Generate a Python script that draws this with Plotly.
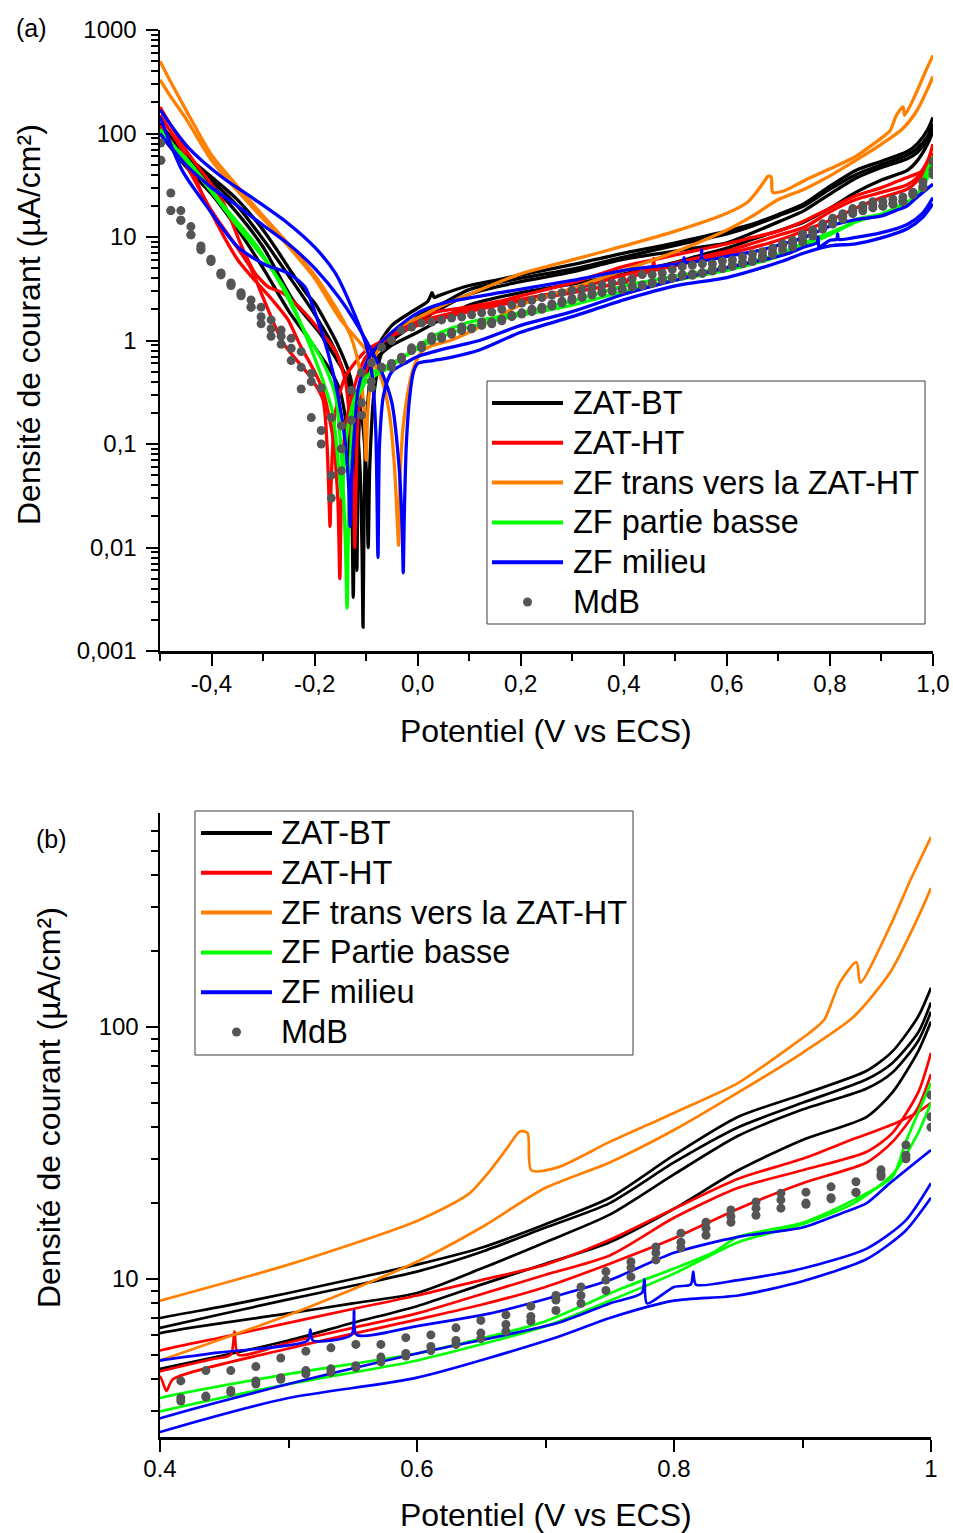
import plotly.graph_objects as go

W, H = 953, 1533

# ---------------- data : potential E (V vs ECS), current density J (uA/cm2) ----------------
# ZAT-BT (black)
zatbt1_E = [-0.5, -0.45, -0.4, -0.35, -0.3, -0.273, -0.25, -0.215, -0.2, -0.157, -0.131, -0.12, -0.112, -0.108, -0.106,
            -0.104, -0.1, -0.09, -0.079, -0.05, -0.015, 0.02, 0.028, 0.032, 0.04, 0.1, 0.16, 0.2, 0.3, 0.4,
            0.45, 0.5, 0.55, 0.6, 0.65, 0.7, 0.75, 0.8, 0.85, 0.9, 0.95, 0.97, 0.99, 1.0]
zatbt1_J = [125, 62, 38, 23, 11.7, 7.5, 5.0, 2.8, 2.3, 0.95, 0.45, 0.2, 0.06, 0.01, 0.0017,
            0.02, 0.15, 0.5, 0.85, 1.4, 1.85, 2.4, 2.9, 2.6, 2.7, 3.4, 3.9, 4.3, 5.4, 7.0,
            7.8, 8.8, 10.0, 11.4, 13.3, 16.5, 21, 31, 44, 54, 67, 80, 110, 143]
zatbt2_E = [-0.5, -0.45, -0.4, -0.35, -0.3, -0.242, -0.19, -0.157, -0.131, -0.11, -0.1, -0.096, -0.093, -0.085, -0.07,
            -0.04, 0.0, 0.05, 0.1, 0.2, 0.3, 0.4, 0.5, 0.55, 0.6, 0.65, 0.7, 0.75, 0.8, 0.85,
            0.9, 0.95, 0.97, 0.99, 1.0]
zatbt2_J = [110, 55, 32, 17, 8, 2.46, 1.18, 0.65, 0.39, 0.2, 0.06, 0.01, 0.06, 0.3, 0.75,
            1.1, 1.7, 2.3, 3.1, 4.0, 4.9, 6.4, 8.3, 9.4, 10.7, 12.8, 16, 20, 29, 40,
            50, 62, 72, 95, 125]
zatbt3_E = [-0.5, -0.45, -0.4, -0.35, -0.3, -0.248, -0.209, -0.17, -0.151, -0.135, -0.128, -0.125, -0.122, -0.115, -0.1,
            -0.08, -0.04, 0.0, 0.1, 0.2, 0.3, 0.4, 0.5, 0.55, 0.6, 0.65, 0.7, 0.75, 0.8, 0.85,
            0.9, 0.95, 0.97, 0.99, 1.0]
zatbt3_J = [100, 48, 26, 12, 5.0, 1.85, 1.0, 0.52, 0.33, 0.12, 0.03, 0.0033, 0.04, 0.2, 0.5,
            0.8, 1.1, 1.5, 2.8, 3.7, 4.6, 6.1, 7.3, 8.0, 8.8, 11.0, 14, 18, 26, 37,
            47, 57, 66, 88, 115]
zatbt4_E = [-0.5, -0.45, -0.4, -0.35, -0.3, -0.25, -0.2, -0.16, -0.13, -0.122, -0.118, -0.115, -0.108, -0.09, -0.05,
            0.0, 0.1, 0.2, 0.3, 0.4, 0.5, 0.55, 0.6, 0.65, 0.7, 0.75, 0.8, 0.85, 0.9, 0.95,
            0.97, 0.99, 1.0]
zatbt4_J = [115, 57, 35, 20, 9.5, 4.2, 1.8, 0.8, 0.3, 0.08, 0.006, 0.1, 0.35, 0.6, 0.9,
            1.2, 2.2, 2.9, 3.5, 4.4, 5.7, 6.7, 7.8, 9.5, 11.5, 14, 19, 27, 35.6, 44,
            55, 80, 105]

# ZAT-HT (red)
zatht1_E = [-0.5, -0.446, -0.38, -0.341, -0.316, -0.29, -0.263, -0.219, -0.186, -0.16, -0.14, -0.13, -0.124, -0.122, -0.12,
            -0.115, -0.1, -0.087, -0.034, 0.03, 0.096, 0.16, 0.2, 0.3, 0.4, 0.45, 0.5, 0.55, 0.6, 0.65,
            0.7, 0.75, 0.8, 0.85, 0.9, 0.94, 0.97, 0.99, 1.0]
zatht1_J = [180, 65, 23, 8, 4.5, 3.3, 2.9, 1.85, 1.18, 0.8, 0.4, 0.12, 0.03, 0.01, 0.03,
            0.2, 0.5, 0.81, 1.3, 1.85, 2.1, 2.4, 2.7, 3.6, 5.2, 5.9, 6.7, 7.6, 8.6, 9.9,
            11.4, 14.3, 19, 25, 30, 36, 41, 46, 50]
zatht2_E = [-0.5, -0.45, -0.413, -0.349, -0.283, -0.252, -0.228, -0.2, -0.184, -0.165, -0.155, -0.151, -0.148, -0.14, -0.12,
            -0.1, -0.05, 0.0, 0.1, 0.2, 0.3, 0.4, 0.44, 0.455, 0.458, 0.461, 0.5, 0.55, 0.6, 0.65,
            0.7, 0.75, 0.8, 0.85, 0.9, 0.95, 0.97, 0.99, 1.0]
zatht2_J = [150, 60, 23, 6, 2.5, 1.6, 0.9, 0.5, 0.33, 0.12, 0.03, 0.005, 0.03, 0.15, 0.4,
            0.7, 1.1, 1.5, 2.0, 2.5, 3.1, 4.3, 4.8, 5.0, 6.2, 5.0, 5.6, 6.4, 7.3, 8.7,
            10.4, 12.4, 17.5, 23, 27, 32, 38, 55, 79]
zatht3_E = [-0.5, -0.45, -0.4, -0.325, -0.3, -0.261, -0.209, -0.184, -0.176, -0.172, -0.17, -0.168, -0.16, -0.14, -0.1,
            -0.05, 0.0, 0.1, 0.2, 0.3, 0.395, 0.4, 0.405, 0.41, 0.5, 0.6, 0.65, 0.7, 0.75, 0.8,
            0.85, 0.9, 0.95, 0.97, 0.99, 1.0]
zatht3_J = [120, 50, 18, 5.1, 2.6, 0.95, 0.45, 0.27, 0.1, 0.03, 0.016, 0.04, 0.2, 0.45, 0.8,
            1.1, 1.4, 1.9, 2.4, 2.9, 3.7, 4.1, 3.6, 4.0, 5.3, 6.9, 7.9, 9.3, 11.5, 14.5,
            19, 24, 29, 35, 48, 65]

# ZF trans vers la ZAT-HT (orange)
zftrans1_E = [-0.5, -0.48, -0.45, -0.4, -0.35, -0.3, -0.25, -0.2, -0.15, -0.13, -0.115, -0.105, -0.1, -0.097, -0.09,
              -0.08, -0.06, -0.03, 0.0, 0.05, 0.1, 0.2, 0.3, 0.4, 0.5, 0.6, 0.64, 0.657, 0.67, 0.68,
              0.686, 0.689, 0.71, 0.75, 0.8, 0.85, 0.89, 0.908, 0.917, 0.929, 0.942, 0.945, 0.968, 0.984, 1.0]
zftrans1_J = [500, 320, 170, 62, 31, 16, 8.5, 4.3, 1.75, 1.1, 0.6, 0.25, 0.07, 0.2, 0.45,
              0.75, 1.1, 1.4, 1.65, 2.2, 2.8, 4.4, 6.0, 8.2, 11.4, 17, 21.7, 27, 33, 38.5,
              38, 27, 27.8, 35, 45.6, 60, 83, 97, 107, 150, 181, 150, 250, 383, 567]
zftrans2_E = [-0.5, -0.48, -0.45, -0.4, -0.35, -0.3, -0.25, -0.2, -0.15, -0.1, -0.07, -0.055, -0.045, -0.04, -0.037,
              -0.034, -0.028, -0.015, -0.005, 0.01, 0.03, 0.063, 0.1, 0.2, 0.3, 0.4, 0.5, 0.6, 0.65, 0.7,
              0.75, 0.8, 0.85, 0.9, 0.94, 0.968, 0.989, 1.0]
zftrans2_J = [330, 230, 140, 55, 28, 15, 8, 4.0, 1.6, 0.8, 0.42, 0.2, 0.06, 0.02, 0.0105,
              0.05, 0.15, 0.4, 0.6, 0.8, 0.9, 1.0, 1.2, 2.2, 3.2, 4.75, 7.2, 11.7, 16, 23,
              29, 39, 55, 79, 110, 164, 266, 356]

# ZF partie basse (green)
zfbasse1_E = [-0.5, -0.446, -0.38, -0.316, -0.263, -0.224, -0.186, -0.16, -0.148, -0.14, -0.137, -0.134, -0.128, -0.12, -0.1,
              -0.054, 0.03, 0.1, 0.16, 0.3, 0.4, 0.5, 0.6, 0.65, 0.7, 0.76, 0.8, 0.83, 0.85, 0.9,
              0.94, 0.97, 0.98, 1.0]
zfbasse1_J = [100, 55, 21, 8.7, 3.3, 1.36, 0.65, 0.3, 0.08, 0.01, 0.0026, 0.02, 0.12, 0.25, 0.4,
              0.55, 1.1, 1.5, 1.7, 2.4, 3.37, 4.2, 5.06, 5.8, 6.8, 9.2, 11, 12.7, 14.7, 16.7,
              20.6, 25.4, 34.6, 60]
zfbasse2_E = [-0.5, -0.477, -0.413, -0.349, -0.296, -0.252, -0.219, -0.19, -0.165, -0.152, -0.147, -0.143, -0.135, -0.12, -0.1,
              -0.05, 0.03, 0.1, 0.16, 0.3, 0.4, 0.5, 0.6, 0.7, 0.75, 0.8, 0.85, 0.9, 0.94, 0.97,
              0.99, 1.0]
zfbasse2_J = [110, 80, 33, 12.6, 6, 2.8, 1.18, 0.5, 0.2, 0.05, 0.03, 0.06, 0.15, 0.3, 0.45,
              0.6, 1.0, 1.35, 1.6, 2.2, 2.98, 3.83, 4.75, 6.5, 8.2, 10.5, 14, 16.5, 20, 26,
              38, 50]

# ZF milieu (blue)
zfmil1_E = [-0.5, -0.457, -0.413, -0.349, -0.296, -0.252, -0.219, -0.199, -0.174, -0.155, -0.14, -0.134, -0.131, -0.128, -0.122,
            -0.115, -0.1, -0.09, -0.05, 0.0, 0.05, 0.16, 0.3, 0.4, 0.445, 0.515, 0.517, 0.519, 0.549, 0.551,
            0.553, 0.6, 0.657, 0.71, 0.75, 0.8, 0.85, 0.9, 0.93, 0.95, 0.968, 1.0]
zfmil1_J = [145, 44, 21, 8, 5.4, 4.5, 3.3, 1.85, 0.76, 0.3, 0.1, 0.04, 0.016, 0.05, 0.15,
            0.35, 0.6, 0.75, 1.2, 1.85, 2.3, 2.9, 3.8, 4.75, 5.1, 5.7, 6.3, 5.7, 6.0, 7.5,
            6.0, 6.5, 7.3, 8.6, 9.9, 12.7, 14.7, 16, 18.2, 20, 24, 32.5]
zfmil2_E = [-0.5, -0.446, -0.38, -0.316, -0.252, -0.199, -0.16, -0.13, -0.1, -0.088, -0.081, -0.077, -0.074, -0.066, -0.05,
            -0.02, 0.0, 0.06, 0.12, 0.2, 0.3, 0.4, 0.5, 0.6, 0.71, 0.75, 0.775, 0.777, 0.779, 0.8,
            0.813, 0.815, 0.817, 0.85, 0.9, 0.95, 0.98, 1.0]
zfmil2_J = [170, 74, 38, 23, 13.6, 7.9, 4.5, 2.2, 0.9, 0.45, 0.12, 0.008, 0.1, 0.3, 0.5,
            0.62, 0.7, 0.85, 1.0, 1.4, 1.9, 2.8, 3.83, 5.06, 6.7, 8.0, 8.8, 10, 8.0, 9.3,
            9.5, 10.7, 9.5, 9.9, 11, 13.2, 17, 24]
zfmil3_E = [-0.5, -0.45, -0.4, -0.35, -0.3, -0.25, -0.2, -0.15, -0.1, -0.07, -0.05, -0.036, -0.03, -0.028, -0.026,
            -0.022, -0.015, -0.008, 0.0, 0.03, 0.06, 0.12, 0.2, 0.3, 0.4, 0.5, 0.6, 0.71, 0.75, 0.8,
            0.85, 0.9, 0.95, 0.98, 1.0]
zfmil3_J = [100, 50, 30, 20, 13, 8.5, 5.0, 2.5, 1.0, 0.5, 0.25, 0.06, 0.015, 0.0057, 0.02,
            0.1, 0.3, 0.5, 0.6, 0.64, 0.68, 0.81, 1.2, 1.7, 2.47, 3.37, 4.06, 5.9, 7.0, 8.2,
            8.6, 9.8, 12, 15.5, 21]

# MdB (grey dots), three measurements sharing the same potentials
mdb_E = [-0.4984, -0.4790, -0.4595, -0.4400, -0.4206, -0.4011, -0.3817, -0.3622, -0.3427, -0.3233,
         -0.3038, -0.2844, -0.2649, -0.2454, -0.2260, -0.2065, -0.1871, -0.1676, -0.1481, -0.1287,
         -0.1092, -0.0898, -0.0703, -0.0508, -0.0314, -0.0119, 0.0075, 0.0270, 0.0465, 0.0659,
         0.0854, 0.1048, 0.1243, 0.1438, 0.1632, 0.1827, 0.2021, 0.2216, 0.2411, 0.2605,
         0.2800, 0.2994, 0.3189, 0.3384, 0.3578, 0.3773, 0.3967, 0.4162, 0.4357, 0.4551,
         0.4746, 0.4940, 0.5135, 0.5330, 0.5524, 0.5719, 0.5913, 0.6108, 0.6303, 0.6497,
         0.6692, 0.6886, 0.7081, 0.7276, 0.7470, 0.7665, 0.7859, 0.8054, 0.8249, 0.8443,
         0.8638, 0.8832, 0.9027, 0.9222, 0.9416, 0.9611, 0.9805, 1.0000]
mdb1_J = [81, 26.6, 18, 12.6, 8.2, 6.1, 4.5, 3.6, 2.9, 2.46,
          2.1, 1.58, 1.26, 1.05, 0.78, 0.48, 0.35, 0.18, 0.15, 0.33,
          0.49, 0.61, 0.86, 1.0, 1.26, 1.35, 1.48, 1.51, 1.58, 1.65,
          1.69, 1.77, 1.85, 1.88, 2.0, 2.2, 2.3, 2.45, 2.6, 2.75,
          2.9, 3.05, 3.15, 3.3, 3.45, 3.6, 3.76, 3.94, 4.33, 4.33,
          4.49, 4.86, 5.17, 5.33, 5.5, 5.5, 5.85, 6.0, 6.4, 6.85,
          7.2, 7.8, 8.6, 9.3, 10.7, 11.7, 13.4, 15.2, 16.8, 18.8,
          20.2, 21.9, 22.1, 23.2, 24.3, 27.1, 34, 53.7]
mdb2_J = [55, 18, 14.5, 10.5, 7.8, 5.9, 4.4, 3.5, 2.8, 2.1,
          1.7, 1.3, 1.1, 0.84, 0.55, 0.40, 0.135, 0.05, 0.055, 0.17,
          0.19, 0.35, 0.55, 0.55, 0.69, 0.85, 0.9, 1.09, 1.09, 1.2,
          1.35, 1.32, 1.51, 1.51, 1.6, 1.75, 1.85, 2.0, 2.1, 2.25,
          2.4, 2.55, 2.7, 2.85, 3.0, 3.1, 3.17, 3.37, 3.43, 3.61,
          3.94, 4.06, 4.33, 4.4, 4.53, 4.9, 5.06, 5.4, 5.7, 6.1,
          6.6, 7.1, 8.25, 8.6, 9.9, 11.1, 12.7, 14.0, 15.9, 17.7,
          19.1, 20.6, 20.0, 21.0, 22.1, 26, 31, 44]
mdb3_J = [55, 18, 14.5, 10.5, 7.5, 5.8, 4.3, 3.4, 2.7, 2.1,
          1.45, 1.1, 0.92, 0.64, 0.34, 0.18, 0.10, 0.03, 0.09, 0.17,
          0.25, 0.40, 0.55, 0.6, 0.65, 0.8, 0.85, 1.0, 1.05, 1.15,
          1.25, 1.3, 1.4, 1.45, 1.55, 1.7, 1.8, 1.9, 2.0, 2.15,
          2.3, 2.45, 2.6, 2.75, 2.9, 3.0, 3.1, 3.28, 3.4, 3.55,
          3.83, 4.0, 4.2, 4.26, 4.45, 4.69, 4.95, 5.2, 5.5, 5.8,
          6.2, 6.8, 7.5, 8.0, 9.0, 10.2, 11.9, 13.3, 14.9, 16.8,
          17.9, 19.1, 19.8, 20.8, 22.0, 25.5, 30, 40]

legend_a_labels = ["ZAT-BT", "ZAT-HT", "ZF trans vers la ZAT-HT", "ZF partie basse", "ZF milieu", "MdB"]
legend_b_labels = ["ZAT-BT", "ZAT-HT", "ZF trans vers la ZAT-HT", "ZF Partie basse", "ZF milieu", "MdB"]
series_colors = ["#000000", "#FF0000", "#FF8000", "#00FF00", "#0000FF"]
dot_color = "#555555"

ya_tickvals = [0.001, 0.01, 0.1, 1, 10, 100, 1000]
ya_ticktext = ["0,001", "0,01", "0,1", "1", "10", "100", "1000"]
xa_tickvals = [-0.4, -0.2, 0.0, 0.2, 0.4, 0.6, 0.8, 1.0]
xa_ticktext = ["-0,4", "-0,2", "0,0", "0,2", "0,4", "0,6", "0,8", "1,0"]
xb_tickvals = [0.4, 0.6, 0.8, 1.0]
xb_ticktext = ["0.4", "0.6", "0.8", "1"]
yb_tickvals = [10, 100]
yb_ticktext = ["10", "100"]

groups = [
    [(zatbt1_E, zatbt1_J), (zatbt2_E, zatbt2_J), (zatbt3_E, zatbt3_J), (zatbt4_E, zatbt4_J)],
    [(zatht1_E, zatht1_J), (zatht2_E, zatht2_J), (zatht3_E, zatht3_J)],
    [(zftrans1_E, zftrans1_J), (zftrans2_E, zftrans2_J)],
    [(zfbasse1_E, zfbasse1_J), (zfbasse2_E, zfbasse2_J)],
    [(zfmil1_E, zfmil1_J), (zfmil2_E, zfmil2_J), (zfmil3_E, zfmil3_J)],
]
mdb_sets = [mdb1_J, mdb2_J, mdb3_J]

# ---------------- figure ----------------
def fx(p):
    return p / W


def fy(p):
    return 1 - p / H


FONT = "Liberation Sans, Arial, sans-serif"
fig = go.Figure()

for xa, ya, lw in (("x", "y", 3.3), ("x2", "y2", 2.7)):
    for color, curves in zip(series_colors, groups):
        for E, J in curves:
            fig.add_trace(go.Scatter(x=E, y=J, mode="lines", xaxis=xa, yaxis=ya,
                                     line=dict(color=color, width=lw, shape="spline", smoothing=0.7),
                                     showlegend=False, hoverinfo="skip"))
    for J in mdb_sets:
        fig.add_trace(go.Scatter(x=mdb_E, y=J, mode="markers", xaxis=xa, yaxis=ya,
                                 marker=dict(color=dot_color, size=9, line=dict(width=0)),
                                 showlegend=False, hoverinfo="skip"))

axis_common = dict(showline=True, linecolor="black", linewidth=2.5, showgrid=False, zeroline=False,
                   ticks="outside", tickcolor="black", tickwidth=2, ticklen=12, automargin=False,
                   tickfont=dict(size=24, family=FONT, color="black"), mirror=False)

ya_minor = [k * 10.0 ** e for e in range(-3, 3) for k in range(2, 10)]
yb_minor = [3, 4, 5, 6, 7, 8, 9, 20, 30, 40, 50, 60, 70, 80, 90, 200, 300, 400, 500, 600]

fig.update_layout(
    template="none",
    width=W, height=H, margin=dict(l=0, r=0, t=0, b=0, pad=0), autosize=False,
    paper_bgcolor="white", plot_bgcolor="white", showlegend=False,
    font=dict(family=FONT, color="black", size=24),
    xaxis=dict(axis_common, domain=[fx(160), fx(933)], range=[-0.5, 1.0], anchor="y",
               tickmode="array", tickvals=xa_tickvals, ticktext=xa_ticktext, ticklabelstandoff=-2,
               minor=dict(tickvals=[-0.5, -0.3, -0.1, 0.1, 0.3, 0.5, 0.7, 0.9], ticks="outside",
                          ticklen=7, tickwidth=2, tickcolor="black", showgrid=False)),
    yaxis=dict(axis_common, domain=[fy(651), fy(30)], type="log", range=[-3, 3], anchor="x",
               tickmode="array", tickvals=ya_tickvals, ticktext=ya_ticktext, ticklabelstandoff=4,
               minor=dict(tickvals=ya_minor, ticks="outside", ticklen=7, tickwidth=2,
                          tickcolor="black", showgrid=False)),
    xaxis2=dict(axis_common, domain=[fx(160), fx(931)], range=[0.4, 1.0], anchor="y2",
                tickmode="array", tickvals=xb_tickvals, ticktext=xb_ticktext, ticklabelstandoff=-3,
                minor=dict(tickvals=[0.5, 0.7, 0.9], ticks="outside", ticklen=8, tickwidth=2,
                           tickcolor="black", showgrid=False)),
    yaxis2=dict(axis_common, domain=[fy(1437), fy(813)], type="log", range=[0.373, 2.849], anchor="x2",
                tickmode="array", tickvals=yb_tickvals, ticktext=yb_ticktext, ticklabelstandoff=2,
                minor=dict(tickvals=yb_minor, ticks="outside", ticklen=7, tickwidth=2,
                           tickcolor="black", showgrid=False)),
)

annotations = []
shapes = []


def text(x, y, s, size, angle=0, xanchor="center"):
    annotations.append(dict(x=fx(x), y=fy(y), xref="paper", yref="paper", text=s, showarrow=False,
                            textangle=angle, xanchor=xanchor, yanchor="middle",
                            font=dict(family=FONT, size=size, color="black")))


# axis titles and panel tags
text(546, 731, "Potentiel (V vs ECS)", 32)
text(29, 325, "Densité de courant (µA/cm²)", 32, angle=-90)
text(546, 1515, "Potentiel (V vs ECS)", 32)
text(49, 1108, "Densité de courant (µA/cm²)", 32, angle=-90)
text(31, 28, "(a)", 25)
text(51, 839, "(b)", 25)


def legend(box, lx0, lx1, tx, y0, dy, labels):
    shapes.append(dict(type="rect", xref="paper", yref="paper", x0=fx(box[0]), x1=fx(box[2]),
                       y0=fy(box[3]), y1=fy(box[1]), line=dict(color="#3a3a3a", width=1),
                       fillcolor="white", layer="above"))
    for i, lab in enumerate(labels):
        yy = y0 + dy * i
        if i < len(series_colors):
            shapes.append(dict(type="line", xref="paper", yref="paper", x0=fx(lx0), x1=fx(lx1),
                               y0=fy(yy), y1=fy(yy), line=dict(color=series_colors[i], width=4),
                               layer="above"))
        else:
            cx = (lx0 + lx1) / 2
            shapes.append(dict(type="circle", xref="paper", yref="paper", x0=fx(cx - 4.5), x1=fx(cx + 4.5),
                               y0=fy(yy + 4.5), y1=fy(yy - 4.5), fillcolor=dot_color,
                               line=dict(width=0), layer="above"))
        text(tx, yy, lab, 32.5, xanchor="left")


legend((487, 381, 925, 624), 492, 563, 571, 403, 39.8, legend_a_labels)
legend((195, 811, 633, 1055), 201, 272, 279, 833, 39.8, legend_b_labels)

fig.update_layout(annotations=annotations, shapes=shapes)
fig.write_html("out.html", config={"displayModeBar": False, "staticPlot": True},
               post_script="document.body.style.margin='0';document.body.style.padding='0';"
                           "document.body.style.overflow='hidden';")
